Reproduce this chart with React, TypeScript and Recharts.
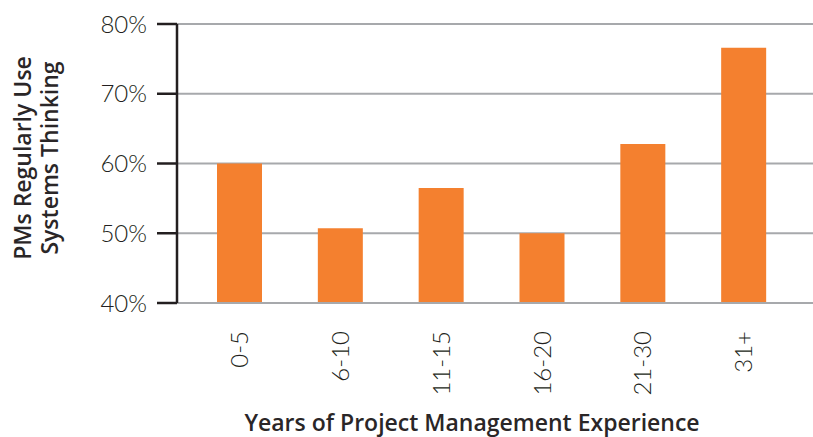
import React from "react";
import { BarChart, Bar, XAxis, YAxis, CartesianGrid, Label } from "recharts";

const experience = ["0-5", "6-10", "11-15", "16-20", "21-30", "31+"];
const systemsThinking = [60.0, 50.7, 56.5, 50.0, 62.8, 76.6];
const yTicks = [40, 50, 60, 70, 80];

const data = experience.map((range, i) => ({ range, pct: systemsThinking[i] }));

const FONT = "Lato, 'Open Sans', sans-serif";
const TITLE_FONT = "'Open Sans', sans-serif";

function RotatedTick(props: any) {
  const { x, y, payload } = props;
  return (
    <g transform={`translate(${x},${y})`}>
      <text
        transform="rotate(-90)"
        x={0}
        y={0}
        dy="0.36em"
        textAnchor="end"
        fontFamily={FONT}
        fontWeight={300}
        fontSize={24}
        fill="#231f20"
      >
        {payload.value}
      </text>
    </g>
  );
}

function YTitle(props: any) {
  const cx = 36;
  const cy = 158;
  return (
    <text
      transform={`translate(${cx},${cy}) rotate(-90)`}
      textAnchor="middle"
      fontFamily={TITLE_FONT}
      fontWeight={600}
      fontSize={23}
      fill="#2a2627"
    >
      <tspan x={0} dy={-5}>PMs Regularly Use</tspan>
      <tspan x={0} dy={27}>Systems Thinking</tspan>
    </text>
  );
}

export default function App() {
  return (
    <div style={{ position: "absolute", left: 0, top: 0, width: 813, height: 437, background: "#fff" }}>
      <BarChart
        width={813}
        height={437}
        data={data}
        margin={{ top: 24, right: 0, bottom: 0, left: 0 }}
      >
        <CartesianGrid vertical={false} stroke="#a7a9ac" strokeWidth={2} />
        <XAxis
          dataKey="range"
          height={134}
          padding={{ left: 12, right: 19 }}
          axisLine={{ stroke: "#a7a9ac", strokeWidth: 2 }}
          tickLine={false}
          tickSize={0}
          tickMargin={28}
          interval={0}
          tick={<RotatedTick />}
        >
          <Label
            value="Years of Project Management Experience"
            position="insideBottom"
            offset={6}
            dx={-23}
            style={{
              fontFamily: TITLE_FONT,
              fontWeight: 600,
              fontSize: 23,
              fill: "#2a2627",
            }}
          />
        </XAxis>
        <YAxis
          width={177}
          domain={[40, 80]}
          ticks={yTicks}
          allowDataOverflow
          tickFormatter={(v: number) => `${v}%`}
          axisLine={{ stroke: "#231f20", strokeWidth: 2.5 }}
          tickLine={{ stroke: "#231f20", strokeWidth: 2.5 }}
          tickSize={20}
          tickMargin={10}
          tick={{ fontFamily: FONT, fontWeight: 300, fontSize: 24, fill: "#231f20" }}
        >
          <Label content={<YTitle />} />
        </YAxis>
        <Bar dataKey="pct" fill="#f4802f" barSize={45} isAnimationActive={false} />
      </BarChart>
    </div>
  );
}
